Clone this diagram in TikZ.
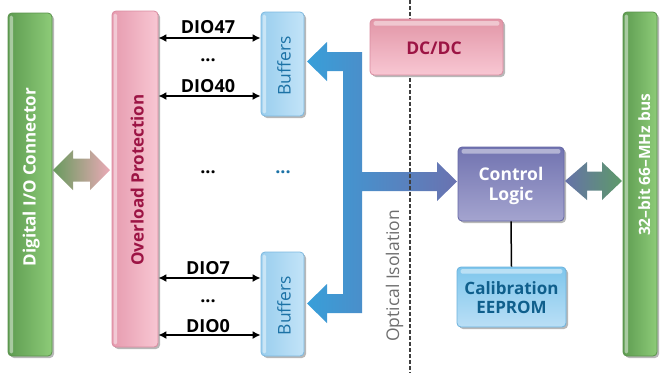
\documentclass[tikz,border=0pt]{standalone}
\usepackage{fontspec}
\setmainfont{Open Sans}
\usetikzlibrary{arrows.meta,shadows}
\definecolor{gL}{HTML}{5E9C51}
\definecolor{gR}{HTML}{8DCB78}
\definecolor{gBorder}{HTML}{5A934C}
\definecolor{pL}{HTML}{E69BAF}
\definecolor{pR}{HTML}{F8C7D3}
\definecolor{pT}{HTML}{E296A7}
\definecolor{pBorder}{HTML}{D98BA0}
\definecolor{bL}{HTML}{9ACEEE}
\definecolor{bR}{HTML}{C3E4F8}
\definecolor{bBorder}{HTML}{7DB9E0}
\definecolor{cT}{HTML}{7173B0}
\definecolor{cB}{HTML}{A4A4CF}
\definecolor{cBorder}{HTML}{6466A5}
\definecolor{eT}{HTML}{7EC6EC}
\definecolor{eB}{HTML}{BADFF6}
\definecolor{eBorder}{HTML}{6CB2DD}
\definecolor{crimson}{HTML}{9C1444}
\definecolor{buftext}{HTML}{1C72A6}
\definecolor{eeptext}{HTML}{0F5F8C}
\definecolor{isotext}{HTML}{6E6E6E}
\definecolor{arrBlueL}{HTML}{389FD9}
\definecolor{arrBlueR}{HTML}{6A72B0}
\definecolor{arrGreen}{HTML}{679A5D}
\definecolor{arrPink}{HTML}{EBAAB7}
\definecolor{arrSlate}{HTML}{6572A8}
\definecolor{arrGreen2}{HTML}{5E9A69}
\definecolor{dashcol}{HTML}{3E3E3E}
\tikzset{
  blk/.style={rounded corners=4pt, line width=0.8pt,
    drop shadow={shadow xshift=2pt, shadow yshift=-2pt, fill=black!28, opacity=1}},
  gloss/.style={fill=white, opacity=0.45, rounded corners=1.5pt},
  boldlbl/.style={font=\fontsize{17.5}{20}\selectfont\bfseries, align=center},
  vlbl/.style={rotate=90, anchor=base, font=\fontsize{17}{19.5}\selectfont\bfseries},
  reglbl/.style={rotate=90, anchor=base, font=\fontsize{17.5}{20}\selectfont},
  dio/.style={{Latex[length=8pt,width=8pt]}-{Latex[length=8pt,width=8pt]}, line width=1.5pt},
  diolbl/.style={anchor=base, font=\fontsize{18}{20}\selectfont\bfseries},
}
\begin{document}
\begin{tikzpicture}[x=1pt,y=-1pt]
\useasboundingbox (0,0) rectangle (662,373);

% vertical bars
\node[blk, draw=gBorder, left color=gL, right color=gR, minimum width=44, minimum height=343] (dio) at (30,184.5) {};
\fill[gloss] ([shift={(2,3)}]dio.north west) rectangle ([shift={(5.5,-3)}]dio.south west);
\node[vlbl, white] (diotxt) at (35.5,177) {Digital I/O Connector};

\node[blk, draw=pBorder, left color=pL, right color=pR, minimum width=46, minimum height=336] (op) at (135,179) {};
\fill[gloss] ([shift={(2,3)}]op.north west) rectangle ([shift={(5.5,-3)}]op.south west);
\node[vlbl, crimson] (optxt) at (143.5,180) {Overload Protection};

\node[blk, draw=gBorder, left color=gL, right color=gR, minimum width=34, minimum height=344] (bus) at (640,184) {};
\fill[gloss] ([shift={(2,3)}]bus.north west) rectangle ([shift={(5.5,-3)}]bus.south west);
\node[vlbl, white, font=\fontsize{15.5}{18}\selectfont\bfseries] (bustxt) at (650,165) {32–bit 66–MHz bus};

% buffers
\node[blk, draw=bBorder, left color=bL, right color=bR, minimum width=43, minimum height=104] (buf1) at (282.5,64) {};
\fill[gloss] ([shift={(2,3)}]buf1.north west) rectangle ([shift={(5.5,-3)}]buf1.south west);
\node[reglbl, buftext] (buf1txt) at (290.5,66) {Buffers};

\node[blk, draw=bBorder, left color=bL, right color=bR, minimum width=43, minimum height=104] (buf2) at (282.5,304) {};
\fill[gloss] ([shift={(2,3)}]buf2.north west) rectangle ([shift={(5.5,-3)}]buf2.south west);
\node[reglbl, buftext] (buf2txt) at (290.5,305.5) {Buffers};

% DIO arrows
\draw[dio] (op.east |- 0,38) -- (buf1.west |- 0,38);
\draw[dio] (op.east |- 0,96) -- (buf1.west |- 0,96);
\draw[dio] (op.east |- 0,278) -- (buf2.west |- 0,278);
\draw[dio] (op.east |- 0,335) -- (buf2.west |- 0,335);
\node[diolbl] (l47) at (208,33) {DIO47};
\node[diolbl] (d1) at (208,61) {...};
\node[diolbl] (l40) at (208,92) {DIO40};
\node[diolbl] (d2) at (208,173) {...};
\node[diolbl, buftext] (d3) at (283,173) {...};
\node[diolbl] (l7) at (208,274) {DIO7};
\node[diolbl] (d4) at (208,302) {...};
\node[diolbl] (l0) at (208,332) {DIO0};

% control logic and EEPROM
\node[blk, draw=cBorder, top color=cT, bottom color=cB, minimum width=106, minimum height=74] (ctrl) at (511,184) {};
\fill[gloss] ([shift={(4,2.5)}]ctrl.north west) rectangle ([shift={(-4,7)}]ctrl.north east);
\node[boldlbl, white] (ctrltxt) at (511,186) {Control\\Logic};

\node[blk, draw=eBorder, top color=eT, bottom color=eB, minimum width=109, minimum height=60] (eep) at (511.5,297) {};
\fill[gloss] ([shift={(4,2.5)}]eep.north west) rectangle ([shift={(-4,7)}]eep.north east);
\node[boldlbl, eeptext, font=\fontsize{17}{19}\selectfont\bfseries] (eeptxt) at (511.5,298) {Calibration\\EEPROM};
\draw[line width=1.5pt] (ctrl.south) -- (eep.north);

% fat arrows
\coordinate (la) at (53,170);
\path[left color=arrGreen, right color=arrPink] (la) -- ++(20,-20) -- ++(0,8.5) -- ++(17,0) -- ++(0,-8.5) -- ++(20,20) -- ++(-20,20) -- ++(0,-8.5) -- ++(-17,0) -- ++(0,8.5) -- cycle;

\coordinate (ra) at (565,181);
\path[left color=arrSlate, right color=arrGreen2] (ra) -- ++(22,-19) -- ++(0,9.5) -- ++(15,0) -- ++(0,-9.5) -- ++(20,19) -- ++(-20,19) -- ++(0,-9.5) -- ++(-15,0) -- ++(0,9.5) -- cycle;

\coordinate (ba) at (307,61.5);
\path[left color=arrBlueL, right color=arrBlueR] (ba) -- ++(20,-19.5) -- ++(0,10) -- ++(35,0) -- ++(0,120) -- ++(75,0) -- ++(0,-10) -- ++(20,19.5) -- ++(-20,19.5) -- ++(0,-10) -- ++(-75,0) -- ++(0,122) -- ++(-35,0) -- ++(0,10) -- ++(-20,-19.5) -- ++(20,-19.5) -- ++(0,10) -- ++(16,0) -- ++(0,-223) -- ++(-16,0) -- ++(0,10) -- cycle;

% isolation line
\coordinate (isoTop) at (410,0);
\coordinate (isoBot) at (410,373);
\draw[dashcol, line width=1.7pt, dash pattern=on 3.5pt off 2.5pt] (isoTop) -- (isoBot);
\node[reglbl, isotext] (isotxt) at (399,276) {Optical Isolation};

% DC/DC
\node[blk, draw=pBorder, top color=pT, bottom color=pR, minimum width=133, minimum height=56] (dcdc) at (436.5,47) {};
\fill[gloss] ([shift={(4,2.5)}]dcdc.north west) rectangle ([shift={(-4,7)}]dcdc.north east);
\node[boldlbl, crimson] (dcdctxt) at (434,48) {DC/DC};
\end{tikzpicture}
\end{document}
